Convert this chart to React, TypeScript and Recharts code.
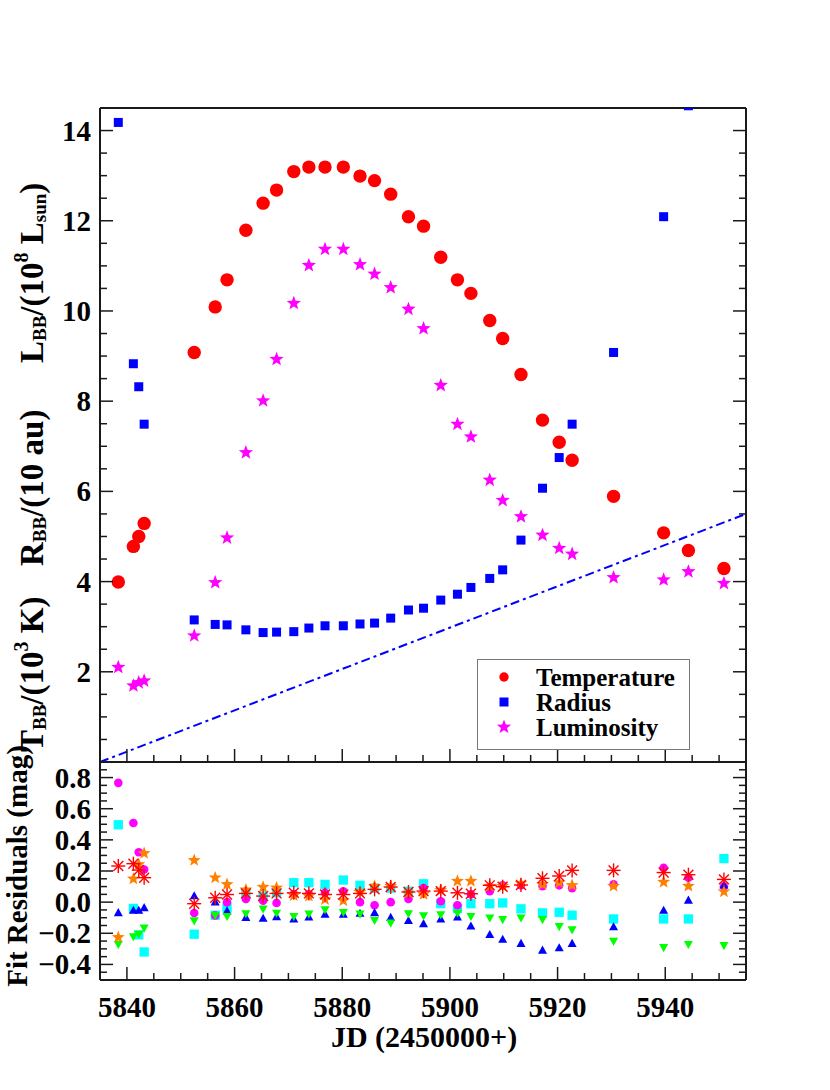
import React from "react";
import { ScatterChart, Scatter, XAxis, YAxis, ReferenceLine, Legend, Label } from "recharts";

const FONT = "'Liberation Serif', 'Times New Roman', Times, serif";
const INK = "#1a1a1a";

// epochs, JD - 2450000
const jd = [
  5838.4, 5841.2, 5842.2, 5843.2, 5852.5, 5856.4, 5858.6, 5862.1,
  5865.3, 5867.8, 5871.0, 5873.8, 5876.8, 5880.2, 5883.3, 5886.0,
  5889.0, 5892.3, 5895.1, 5898.3, 5901.4, 5903.9, 5907.4, 5909.8,
  5913.2, 5917.2, 5920.3, 5922.7, 5930.4, 5939.7, 5944.3, 5950.9,
];

// blackbody fit, upper panel
const temperature = [
  3.99, 4.78, 5.0, 5.29, 9.08, 10.09, 10.69, 11.79,
  12.39, 12.68, 13.09, 13.19, 13.19, 13.19, 12.99, 12.89,
  12.59, 12.09, 11.88, 11.19, 10.69, 10.39, 9.79, 9.39,
  8.59, 7.58, 7.09, 6.69, 5.89, 5.08, 4.69, 4.29,
];
const radius = [
  14.18, 8.83, 8.32, 7.49, 3.15, 3.05, 3.04, 2.93,
  2.87, 2.88, 2.89, 2.97, 3.02, 3.02, 3.06, 3.08,
  3.19, 3.37, 3.41, 3.59, 3.72, 3.87, 4.07, 4.26,
  4.92, 6.07, 6.75, 7.49, 9.08, 12.09, 14.55, null,
];
const luminosity = [
  2.1, 1.69, 1.76, 1.8, 2.8, 3.98, 4.97, 6.86,
  8.01, 8.93, 10.17, 11.01, 11.37, 11.37, 11.03, 10.82,
  10.52, 10.04, 9.61, 8.35, 7.49, 7.21, 6.25, 5.8,
  5.44, 5.03, 4.74, 4.61, 4.09, 4.04, 4.22, 3.96,
];

// fit residuals (mag), lower panel
const resMagenta = [
  0.766, 0.508, 0.32, 0.21, -0.07, -0.086, 0.0, 0.02,
  0.01, -0.005, 0.05, 0.05, 0.06, 0.07, 0.0, -0.02,
  0.0, 0.02, 0.09, 0.006, -0.02, 0.05, 0.07, 0.108,
  0.108, 0.103, 0.108, 0.09, 0.114, 0.22, 0.157, 0.1,
];
const resCyan = [
  0.497, -0.04, -0.21, -0.32, -0.206, -0.084, -0.037, 0.06,
  0.04, 0.06, 0.125, 0.125, 0.114, 0.142, 0.108, 0.09,
  0.09, 0.07, 0.118, -0.01, -0.04, -0.01, -0.01, -0.005,
  -0.043, -0.069, -0.065, -0.084, -0.108, -0.108, -0.108, 0.28,
];
const resBlue = [
  -0.069, -0.054, -0.054, -0.037, 0.039, 0.0, -0.058, -0.1,
  -0.105, -0.095, -0.11, -0.097, -0.08, -0.08, -0.073, -0.069,
  -0.1, -0.12, -0.14, -0.11, -0.097, -0.155, -0.21, -0.24,
  -0.267, -0.31, -0.295, -0.267, -0.16, -0.054, 0.011, 0.108,
];
const resGreen = [
  -0.27, -0.22, -0.205, -0.165, -0.118, -0.084, -0.09, -0.073,
  -0.043, -0.069, -0.09, -0.075, -0.047, -0.065, -0.075, -0.116,
  -0.133, -0.073, -0.086, -0.08, -0.069, -0.09, -0.1, -0.11,
  -0.1, -0.11, -0.155, -0.176, -0.25, -0.29, -0.27, -0.277,
];
const resOrange = [
  -0.226, 0.15, 0.243, 0.314, 0.269, 0.157, 0.114, 0.08,
  0.097, 0.092, 0.043, 0.039, 0.017, 0.01, 0.065, 0.103,
  0.103, 0.06, 0.05, 0.077, 0.135, 0.135, 0.103, 0.103,
  0.12, 0.114, 0.125, 0.108, 0.103, 0.129, 0.103, 0.067,
];
const resRed = [
  0.232, 0.247, 0.206, 0.157, -0.01, 0.028, 0.049, 0.056,
  0.039, 0.056, 0.06, 0.056, 0.049, 0.049, 0.056, 0.082,
  0.097, 0.065, 0.071, 0.071, 0.06, 0.054, 0.108, 0.099,
  0.11, 0.153, 0.168, 0.204, 0.204, 0.19, 0.176, 0.146,
];

// dash-dot guide in the upper panel
const guideLine = [
  { x: 5835, y: 0 },
  { x: 5955, y: 5.5 },
];

const xDomain = [5835, 5955];
const xMajor = [5840, 5860, 5880, 5900, 5920, 5940];
const xTicks = [
  5840, 5845, 5850, 5855, 5860, 5865, 5870, 5875, 5880, 5885, 5890, 5895,
  5900, 5905, 5910, 5915, 5920, 5925, 5930, 5935, 5940, 5945, 5950,
];
const topDomain = [0, 14.5];
const topMajor = [2, 4, 6, 8, 10, 12, 14];
const topTicks = [
  0.5, 1, 1.5, 2, 2.5, 3, 3.5, 4, 4.5, 5, 5.5, 6, 6.5, 7,
  7.5, 8, 8.5, 9, 9.5, 10, 10.5, 11, 11.5, 12, 12.5, 13, 13.5, 14,
];
const botDomain = [-0.5, 0.9];
const botMajor = [-0.4, -0.2, 0, 0.2, 0.4, 0.6, 0.8];
const botTicks = [
  -0.45, -0.4, -0.35, -0.3, -0.25, -0.2, -0.15, -0.1, -0.05, 0,
  0.05, 0.1, 0.15, 0.2, 0.25, 0.3, 0.35, 0.4, 0.45, 0.5,
  0.55, 0.6, 0.65, 0.7, 0.75, 0.8, 0.85,
];

const legendItems = [
  { label: "Temperature", color: "#ff0000", kind: "circle" },
  { label: "Radius", color: "#0000ff", kind: "square" },
  { label: "Luminosity", color: "#ff00ff", kind: "star" },
];

const toPoints = (ys: (number | null)[]) =>
  jd.map((x, i) => ({ x, y: ys[i] })).filter((p) => p.y !== null);

const axisLine = { stroke: INK, strokeWidth: 2 };

function isMajor(v: number, majors: number[]) {
  return majors.some((m) => Math.abs(m - v) < 1e-6);
}

function tickRenderer(side: string, majors: number[], fmt?: (v: number) => string) {
  return (props: any) => {
    const { x, y, payload } = props;
    const v = Number(payload.value);
    const major = isMajor(v, majors);
    const len = major ? 13 : 7;
    let x2 = x;
    let y2 = y;
    if (side === "bottom") y2 = y - len;
    if (side === "top") y2 = y + len;
    if (side === "left") x2 = x + len;
    if (side === "right") x2 = x - len;
    let label = null;
    if (fmt && major) {
      label =
        side === "bottom" ? (
          <text x={x} y={y + 37} textAnchor="middle" fontFamily={FONT} fontWeight={700} fontSize={29} fill="#000">
            {fmt(v)}
          </text>
        ) : (
          <text x={x - 9} y={y + 10} textAnchor="end" fontFamily={FONT} fontWeight={700} fontSize={29} fill="#000">
            {fmt(v)}
          </text>
        );
    }
    return (
      <g>
        <line x1={x} y1={y} x2={x2} y2={y2} stroke={INK} strokeWidth={1.5} />
        {label}
      </g>
    );
  };
}

const fmtInt = (v: number) => String(v);
const fmtRes = (v: number) => v.toFixed(1).replace("-", "\u2212");

function starPath(cx: number, cy: number, R: number) {
  const r = R * 0.42;
  let d = "";
  for (let k = 0; k < 10; k++) {
    const a = -Math.PI / 2 + (k * Math.PI) / 5;
    const rad = k % 2 === 0 ? R : r;
    d += (k === 0 ? "M" : "L") + (cx + rad * Math.cos(a)).toFixed(2) + "," + (cy + rad * Math.sin(a)).toFixed(2);
  }
  return d + "Z";
}

const dot = (r: number, fill: string) => (p: any) => <circle cx={p.cx} cy={p.cy} r={r} fill={fill} />;
const box = (s: number, fill: string) => (p: any) => (
  <rect x={p.cx - s / 2} y={p.cy - s / 2} width={s} height={s} fill={fill} />
);
const star = (R: number, fill: string) => (p: any) => <path d={starPath(p.cx, p.cy, R)} fill={fill} />;
const tri = (s: number, fill: string, up: boolean) => (p: any) => {
  const h = s * 0.9;
  const tip = up ? p.cy - h * 0.6 : p.cy + h * 0.6;
  const base = up ? p.cy + h * 0.4 : p.cy - h * 0.4;
  return <path d={`M${p.cx},${tip}L${p.cx + s / 2},${base}L${p.cx - s / 2},${base}Z`} fill={fill} />;
};
const aster = (r: number, stroke: string) => (p: any) => {
  const d = r * Math.SQRT1_2;
  return (
    <g stroke={stroke} strokeWidth={1.4}>
      <line x1={p.cx - r} y1={p.cy} x2={p.cx + r} y2={p.cy} />
      <line x1={p.cx} y1={p.cy - r} x2={p.cx} y2={p.cy + r} />
      <line x1={p.cx - d} y1={p.cy - d} x2={p.cx + d} y2={p.cy + d} />
      <line x1={p.cx - d} y1={p.cy + d} x2={p.cx + d} y2={p.cy - d} />
    </g>
  );
};

function LegendBox() {
  return (
    <svg width={213} height={91} style={{ display: "block" }}>
      <rect x={0.5} y={0.5} width={212} height={90} fill="#fff" stroke="#777" strokeWidth={1} />
      {legendItems.map((it, i) => {
        const cy = 18 + i * 25;
        let mark = null;
        if (it.kind === "circle") mark = <circle cx={27} cy={cy} r={4.7} fill={it.color} />;
        if (it.kind === "square") mark = <rect x={22.5} y={cy - 4.5} width={9} height={9} fill={it.color} />;
        if (it.kind === "star") mark = <path d={starPath(27, cy, 7.5)} fill={it.color} />;
        return (
          <g key={it.label}>
            {mark}
            <text x={59} y={cy + 8.5} fontFamily={FONT} fontWeight={700} fontSize={25} fill="#000">
              {it.label}
            </text>
          </g>
        );
      })}
    </svg>
  );
}

const titleStyle = { fontFamily: FONT, fontWeight: 700, fill: "#000" };

function TopTitle() {
  const x = 43;
  return (
    <g style={titleStyle} fontSize={33}>
      <text x={x} y={752} transform={`rotate(-90 ${x} 752)`}>
        T<tspan fontSize={19} dy={3}>BB</tspan>
        <tspan dy={-3}>/(10</tspan>
        <tspan fontSize={20} dy={-15}>3</tspan>
        <tspan dy={15}> K)</tspan>
      </text>
      <text x={x} y={566} transform={`rotate(-90 ${x} 566)`}>
        R<tspan fontSize={19} dy={3}>BB</tspan>
        <tspan dy={-3}>/(10 au)</tspan>
      </text>
      <text x={x} y={363} transform={`rotate(-90 ${x} 363)`}>
        L<tspan fontSize={19} dy={3}>BB</tspan>
        <tspan dy={-3}>/(10</tspan>
        <tspan fontSize={20} dy={-15}>8</tspan>
        <tspan dy={15}> L</tspan>
        <tspan fontSize={19} dy={3}>sun</tspan>
        <tspan dy={-3}>)</tspan>
      </text>
    </g>
  );
}

function ResidualTitle() {
  return (
    <text x={27} y={166} transform="rotate(-90 27 166)" textAnchor="middle" style={titleStyle} fontSize={29}>
      Fit Residuals (mag)
    </text>
  );
}

function JdTitle() {
  return (
    <text x={424} y={347} textAnchor="middle" style={titleStyle} fontSize={30}>
      JD (2450000+)
    </text>
  );
}

export default function App() {
  return (
    <div style={{ position: "absolute", left: 0, top: 0, width: 830, height: 1090, background: "#fff" }}>
      <div style={{ position: "absolute", left: 0, top: 0 }}>
        <ScatterChart width={830} height={770} margin={{ top: 88, right: 64, bottom: 0, left: 0 }}>
          <XAxis
            xAxisId="b"
            type="number"
            dataKey="x"
            domain={xDomain}
            allowDataOverflow
            ticks={xTicks}
            interval={0}
            tickSize={0}
            tickMargin={0}
            tickLine={false}
            height={8}
            axisLine={axisLine}
            tick={tickRenderer("bottom", xMajor)}
          />
          <XAxis
            xAxisId="t"
            orientation="top"
            type="number"
            domain={xDomain}
            allowDataOverflow
            ticks={xTicks}
            interval={0}
            tickSize={0}
            tickMargin={0}
            tickLine={false}
            height={20}
            axisLine={axisLine}
            tick={tickRenderer("top", xMajor)}
          />
          <YAxis
            yAxisId="l"
            type="number"
            dataKey="y"
            domain={topDomain}
            allowDataOverflow
            ticks={topTicks}
            interval={0}
            tickSize={0}
            tickMargin={0}
            tickLine={false}
            width={100}
            axisLine={axisLine}
            tick={tickRenderer("left", topMajor, fmtInt)}
          >
            <Label content={TopTitle} />
          </YAxis>
          <YAxis
            yAxisId="r"
            orientation="right"
            type="number"
            domain={topDomain}
            allowDataOverflow
            ticks={topTicks}
            interval={0}
            tickSize={0}
            tickMargin={0}
            tickLine={false}
            width={20}
            axisLine={axisLine}
            tick={tickRenderer("right", topMajor)}
          />
          <ReferenceLine
            xAxisId="b"
            yAxisId="l"
            segment={guideLine}
            stroke="#0000ff"
            strokeWidth={2}
            strokeDasharray="9 4 3 4"
          />
          <Scatter xAxisId="b" yAxisId="l" name="Temperature" data={toPoints(temperature)} shape={dot(6.7, "#ff0000")} isAnimationActive={false} />
          <Scatter xAxisId="b" yAxisId="l" name="Radius" data={toPoints(radius)} shape={box(9, "#0000ff")} isAnimationActive={false} />
          <Scatter xAxisId="b" yAxisId="l" name="Luminosity" data={toPoints(luminosity)} shape={star(7.5, "#ff00ff")} isAnimationActive={false} />
          <Legend
            layout="vertical"
            verticalAlign="middle"
            align="center"
            wrapperStyle={{ left: 477, top: 659, width: 213, height: 91 }}
            content={LegendBox}
          />
        </ScatterChart>
      </div>
      <div style={{ position: "absolute", left: 0, top: 700 }}>
        <ScatterChart width={830} height={390} margin={{ top: 42, right: 64, bottom: 0, left: 0 }}>
          <XAxis
            xAxisId="b"
            type="number"
            dataKey="x"
            domain={xDomain}
            allowDataOverflow
            ticks={xTicks}
            interval={0}
            tickSize={0}
            tickMargin={0}
            tickLine={false}
            height={110}
            axisLine={axisLine}
            tick={tickRenderer("bottom", xMajor, fmtInt)}
          >
            <Label content={JdTitle} />
          </XAxis>
          <XAxis
            xAxisId="t"
            orientation="top"
            type="number"
            domain={xDomain}
            allowDataOverflow
            ticks={xTicks}
            interval={0}
            tickSize={0}
            tickMargin={0}
            tickLine={false}
            height={20}
            axisLine={axisLine}
            tick={tickRenderer("top", xMajor)}
          />
          <YAxis
            yAxisId="l"
            type="number"
            dataKey="y"
            domain={botDomain}
            allowDataOverflow
            ticks={botTicks}
            interval={0}
            tickSize={0}
            tickMargin={0}
            tickLine={false}
            width={100}
            axisLine={axisLine}
            tick={tickRenderer("left", botMajor, fmtRes)}
          >
            <Label content={ResidualTitle} />
          </YAxis>
          <YAxis
            yAxisId="r"
            orientation="right"
            type="number"
            domain={botDomain}
            allowDataOverflow
            ticks={botTicks}
            interval={0}
            tickSize={0}
            tickMargin={0}
            tickLine={false}
            width={20}
            axisLine={axisLine}
            tick={tickRenderer("right", botMajor)}
          />
          <Scatter xAxisId="b" yAxisId="l" name="cyan" data={toPoints(resCyan)} shape={box(9.3, "#00ffff")} isAnimationActive={false} />
          <Scatter xAxisId="b" yAxisId="l" name="magenta" data={toPoints(resMagenta)} shape={dot(4.3, "#ff00ff")} isAnimationActive={false} />
          <Scatter xAxisId="b" yAxisId="l" name="blue" data={toPoints(resBlue)} shape={tri(9, "#0000ff", true)} isAnimationActive={false} />
          <Scatter xAxisId="b" yAxisId="l" name="green" data={toPoints(resGreen)} shape={tri(9, "#00ff00", false)} isAnimationActive={false} />
          <Scatter xAxisId="b" yAxisId="l" name="orange" data={toPoints(resOrange)} shape={star(6.8, "#ff8000")} isAnimationActive={false} />
          <Scatter xAxisId="b" yAxisId="l" name="red" data={toPoints(resRed)} shape={aster(7, "#ff0000")} isAnimationActive={false} />
        </ScatterChart>
      </div>
    </div>
  );
}
